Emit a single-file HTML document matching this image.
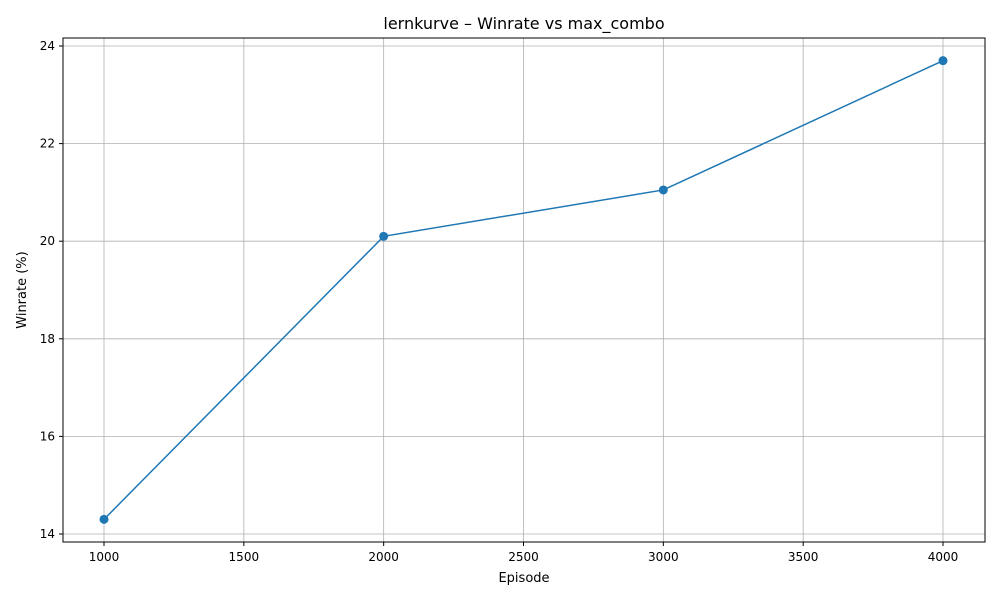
<!DOCTYPE html>
<html><head><meta charset="utf-8"><style>
body{margin:0;background:#fff;font-family:"Liberation Sans","DejaVu Sans",sans-serif;}
svg text{font-family:"DejaVu Sans","Liberation Sans",sans-serif;}
</style></head><body>
<svg id="chart" width="1000" height="600" xmlns="http://www.w3.org/2000/svg">
<rect width="1000" height="600" fill="#fff"/>
<g id="grid"></g><g id="axes"></g><g id="series"></g>
<rect x="63" y="38" width="922" height="504" fill="none" stroke="#000" stroke-width="1"/>
<text x="524" y="29" text-anchor="middle" font-size="16">lernkurve – Winrate vs max_combo</text>
<text x="524" y="582" text-anchor="middle" font-size="13">Episode</text>
<text x="26" y="290" text-anchor="middle" font-size="13" transform="rotate(-90 26 290)">Winrate (%)</text>
</svg>
<script>
const episodes=[1000,2000,3000,4000];
const winrates=[14.3,20.1,21.05,23.7];
const xTicks=[1000,1500,2000,2500,3000,3500,4000];
const yTicks=[14,16,18,20,22,24];
const NS="http://www.w3.org/2000/svg";
function xs(v){return 104+(v-1000)*(943-104)/3000;}
function ys(v){return 534-(v-14)*(534-46)/10;}
function mk(t,a,p){const e=document.createElementNS(NS,t);for(const k in a)e.setAttribute(k,a[k]);p.appendChild(e);return e;}
const grid=document.getElementById('grid'),axes=document.getElementById('axes'),series=document.getElementById('series');
xTicks.forEach(v=>{const x=xs(v);
 const g=mk('line',{x1:x,x2:x,y1:38,y2:542,stroke:'#b0b0b0','stroke-width':0.8},grid);
 
 
 mk('line',{x1:x,x2:x,y1:542,y2:546,stroke:'#000'},axes);
 const t=mk('text',{x:x,y:561,'text-anchor':'middle','font-size':12},axes);t.textContent=v;
 
 });
yTicks.forEach(v=>{const y=ys(v);
 const g=mk('line',{x1:63,x2:985,y1:y,y2:y,stroke:'#b0b0b0','stroke-width':0.8},grid);
 
 
 mk('line',{x1:59,x2:63,y1:y,y2:y,stroke:'#000'},axes);
 const t=mk('text',{x:55,y:y+4,'text-anchor':'end','font-size':12},axes);t.textContent=v;
 
 });
const pts=episodes.map((e,i)=>xs(e)+','+ys(winrates[i])).join(' ');
const pl=mk('polyline',{points:pts,fill:'none',stroke:'#1f77b4','stroke-width':1.5},series);


episodes.forEach((e,i)=>{const c=mk('circle',{cx:xs(e),cy:ys(winrates[i]),r:4.5,fill:'#1f77b4'},series);
 
 });
</script>
</body></html>
